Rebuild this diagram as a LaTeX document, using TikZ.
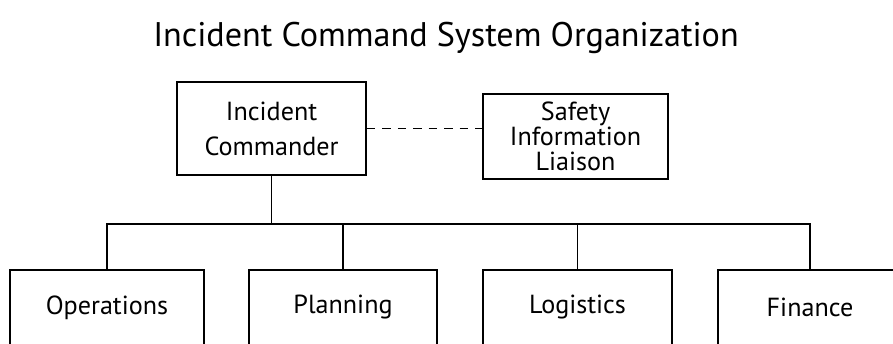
\documentclass[tikz,border=0pt]{standalone}
\usepackage{fontspec}
\setmainfont{PT Sans}

\begin{document}
\begin{tikzpicture}[
  unit/.style={draw, line width=1.1pt, align=center, inner sep=0pt,
    font=\fontsize{18.6}{25}\selectfont},
  link/.style={line width=1pt},
]
\useasboundingbox (0,0) rectangle (22.325,8.575);
\node[font=\fontsize{24.3}{28}\selectfont] (title) at (11.15,7.625) {Incident Command System Organization};
\node[unit, minimum width=4.725cm, minimum height=2.325cm] (ic) at (6.79,5.36) {Incident\\Commander};
\node[unit, minimum width=4.625cm, minimum height=2.125cm,
  font=\fontsize{18.6}{17.8}\selectfont] (sil) at (14.39,5.16) {Safety\\Information\\Liaison};
\coordinate (bus) at (0,2.975);
\node[unit, minimum width=4.85cm, minimum height=1.875cm] (ops) at (2.675,0.8875) {Operations};
\node[unit, minimum width=4.7cm, minimum height=1.875cm] (plan) at (8.575,0.8875) {Planning};
\node[unit, minimum width=4.725cm, minimum height=1.875cm] (log) at (14.44,0.8875) {Logistics};
\node[unit, minimum width=4.6cm, minimum height=1.875cm] (fin) at (20.25,0.8875) {Finance};
\draw[link, dash pattern=on 6pt off 5pt] (ic.east) -- (sil.west |- ic.east);
\draw[link] (ic.south) -- (ic.south |- bus);
\draw[link] (ops.north) |- (fin.north |- bus) -- (fin.north);
\foreach \n in {plan,log}
  \draw[link] (\n.north) -- (\n.north |- bus);
\end{tikzpicture}
\end{document}
